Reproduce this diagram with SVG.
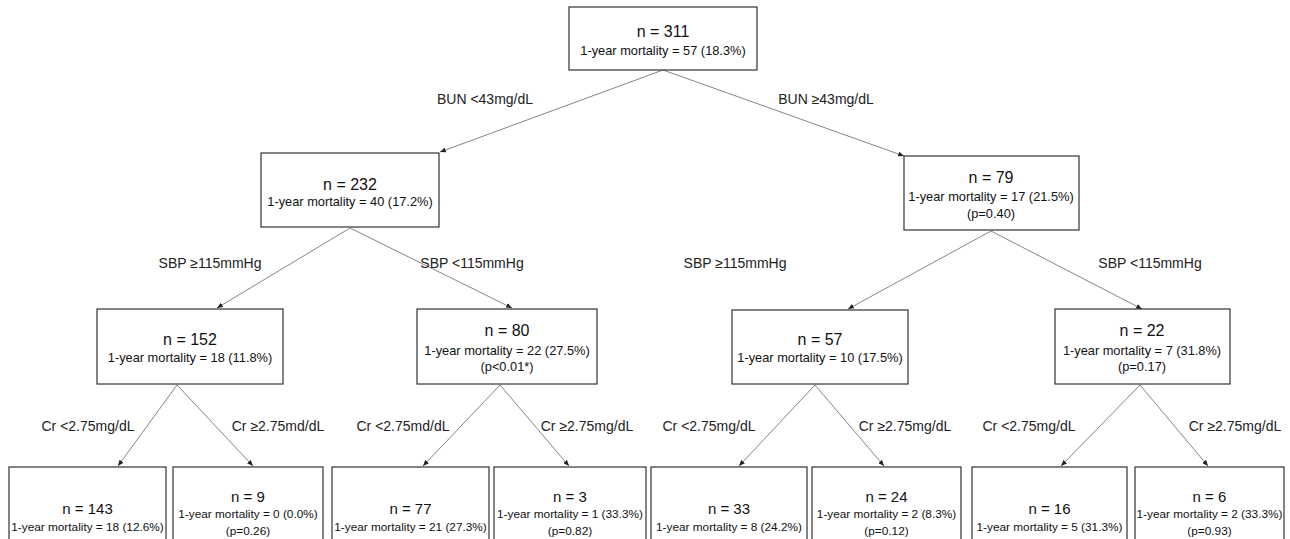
<svg xmlns="http://www.w3.org/2000/svg" width="1290" height="539" viewBox="0 0 1290 539">
<style>
.box{fill:#fff;stroke:#333;stroke-width:1.2}
text{font-family:"Liberation Sans",Arial,sans-serif;fill:#111;text-anchor:middle}
.n{font-size:16px}
.m{font-size:12.8px}
.nb{font-size:15px}
.mb{font-size:11.8px}
.lbl{font-size:14px;fill:#222}
.c{stroke:#666;stroke-width:0.8;fill:none;marker-end:url(#ah)}
</style>
<defs>
<marker id="ah" markerUnits="userSpaceOnUse" markerWidth="6" markerHeight="5" refX="6" refY="2.5" orient="auto">
<path d="M0,0 L6,2.5 L0,5 z" fill="#222"/>
</marker>
</defs>
<rect width="1290" height="539" fill="#fff"/>
<g id="connectors">
<line class="c" x1="663" y1="70" x2="440" y2="152"/>
<line class="c" x1="663" y1="70" x2="904" y2="156"/>
<line class="c" x1="350" y1="228" x2="217" y2="308"/>
<line class="c" x1="350" y1="228" x2="512" y2="308"/>
<line class="c" x1="991" y1="231" x2="848" y2="309"/>
<line class="c" x1="991" y1="231" x2="1142" y2="309"/>
<line class="c" x1="177" y1="385" x2="118" y2="466"/>
<line class="c" x1="177" y1="385" x2="253" y2="466"/>
<line class="c" x1="500" y1="385" x2="423" y2="466"/>
<line class="c" x1="500" y1="385" x2="569" y2="466"/>
<line class="c" x1="815" y1="385" x2="739" y2="466"/>
<line class="c" x1="815" y1="385" x2="884" y2="466"/>
<line class="c" x1="1140" y1="385" x2="1061" y2="466"/>
<line class="c" x1="1140" y1="385" x2="1208" y2="466"/>
</g>
<g id="labels">
<text class="lbl" x="485" y="104">BUN &lt;43mg/dL</text>
<text class="lbl" x="826" y="104">BUN ≥43mg/dL</text>
<text class="lbl" x="210" y="268">SBP ≥115mmHg</text>
<text class="lbl" x="472" y="268">SBP &lt;115mmHg</text>
<text class="lbl" x="735" y="268">SBP ≥115mmHg</text>
<text class="lbl" x="1150" y="268">SBP &lt;115mmHg</text>
<text class="lbl" x="88" y="431">Cr &lt;2.75mg/dL</text>
<text class="lbl" x="278" y="431">Cr ≥2.75md/dL</text>
<text class="lbl" x="403" y="431">Cr &lt;2.75md/dL</text>
<text class="lbl" x="587" y="431">Cr ≥2.75mg/dL</text>
<text class="lbl" x="709" y="431">Cr &lt;2.75mg/dL</text>
<text class="lbl" x="905" y="431">Cr ≥2.75mg/dL</text>
<text class="lbl" x="1029" y="431">Cr &lt;2.75mg/dL</text>
<text class="lbl" x="1235" y="431">Cr ≥2.75mg/dL</text>
</g>
<g id="n311">
<rect class="box" x="569" y="7" width="188" height="63"/>
<text class="n" x="663" y="37">n = 311</text>
<text class="m" x="663" y="55">1-year mortality = 57 (18.3%)</text>
</g>
<g id="n232">
<rect class="box" x="261" y="153" width="178" height="74"/>
<text class="n" x="350" y="190">n = 232</text>
<text class="m" x="350" y="206">1-year mortality = 40 (17.2%)</text>
</g>
<g id="n79">
<rect class="box" x="904" y="156" width="175" height="74"/>
<text class="n" x="991" y="183">n = 79</text>
<text class="m" x="991" y="201">1-year mortality = 17 (21.5%)</text>
<text class="m" x="991" y="218">(p=0.40)</text>
</g>
<g id="n152">
<rect class="box" x="97" y="309" width="186" height="75"/>
<text class="n" x="190" y="345">n = 152</text>
<text class="m" x="190" y="362">1-year mortality = 18 (11.8%)</text>
</g>
<g id="n80">
<rect class="box" x="417" y="309" width="180" height="75"/>
<text class="n" x="507" y="336">n = 80</text>
<text class="m" x="507" y="355">1-year mortality = 22 (27.5%)</text>
<text class="m" x="507" y="371">(p&lt;0.01*)</text>
</g>
<g id="n57">
<rect class="box" x="732" y="310" width="176" height="74"/>
<text class="n" x="820" y="345">n = 57</text>
<text class="m" x="820" y="362">1-year mortality = 10 (17.5%)</text>
</g>
<g id="n22">
<rect class="box" x="1055" y="309" width="175" height="75"/>
<text class="n" x="1142" y="336">n = 22</text>
<text class="m" x="1142" y="355">1-year mortality = 7 (31.8%)</text>
<text class="m" x="1142" y="371">(p=0.17)</text>
</g>
<g id="n143">
<rect class="box" x="9" y="467" width="157" height="90"/>
<text class="nb" x="87.5" y="514">n = 143</text>
<text class="mb" x="87.5" y="531">1-year mortality = 18 (12.6%)</text>
</g>
<g id="n9">
<rect class="box" x="173" y="467" width="150" height="90"/>
<text class="nb" x="248" y="502">n = 9</text>
<text class="mb" x="248" y="518">1-year mortality = 0 (0.0%)</text>
<text class="mb" x="248" y="535">(p=0.26)</text>
</g>
<g id="n77">
<rect class="box" x="332" y="467" width="157" height="90"/>
<text class="nb" x="410.5" y="514">n = 77</text>
<text class="mb" x="410.5" y="531">1-year mortality = 21 (27.3%)</text>
</g>
<g id="n3">
<rect class="box" x="494" y="467" width="152" height="90"/>
<text class="nb" x="570" y="502">n = 3</text>
<text class="mb" x="570" y="518">1-year mortality = 1 (33.3%)</text>
<text class="mb" x="570" y="535">(p=0.82)</text>
</g>
<g id="n33">
<rect class="box" x="651" y="467" width="156" height="90"/>
<text class="nb" x="729" y="514">n = 33</text>
<text class="mb" x="729" y="531">1-year mortality = 8 (24.2%)</text>
</g>
<g id="n24">
<rect class="box" x="812" y="467" width="149" height="90"/>
<text class="nb" x="886.5" y="502">n = 24</text>
<text class="mb" x="886.5" y="518">1-year mortality = 2 (8.3%)</text>
<text class="mb" x="886.5" y="535">(p=0.12)</text>
</g>
<g id="n16">
<rect class="box" x="972" y="467" width="155" height="90"/>
<text class="nb" x="1049.5" y="514">n = 16</text>
<text class="mb" x="1049.5" y="531">1-year mortality = 5 (31.3%)</text>
</g>
<g id="n6">
<rect class="box" x="1135" y="467" width="149" height="90"/>
<text class="nb" x="1209.5" y="502">n = 6</text>
<text class="mb" x="1209.5" y="518">1-year mortality = 2 (33.3%)</text>
<text class="mb" x="1209.5" y="535">(p=0.93)</text>
</g>
</svg>
